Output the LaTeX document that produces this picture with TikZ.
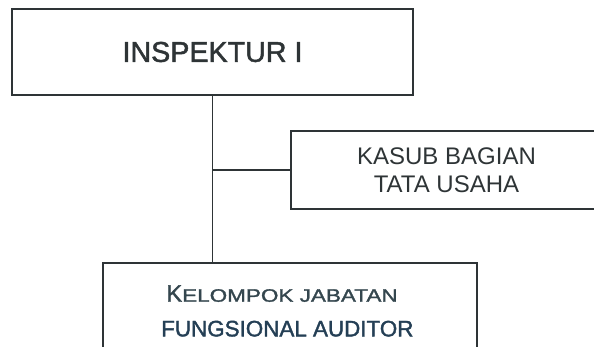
\documentclass[tikz,border=0pt]{standalone}
\usepackage{fontspec}
\setmainfont{Liberation Sans}
\newfontfamily\heavysans[FakeBold=1.6]{Liberation Sans}
\newfontfamily\widesans[FakeStretch=1.25,FakeBold=1.6]{Liberation Sans}
\usetikzlibrary{positioning}

\definecolor{inkgray}{HTML}{2E3436}
\definecolor{tealgray}{HTML}{34464E}
\definecolor{inkblue}{HTML}{243F55}

\tikzset{
  unitbox/.style={draw=inkgray, line width=0.9pt, align=center, inner sep=0pt, text=inkgray},
  orgline/.style={draw=inkgray, line width=0.9pt}
}

\begin{document}
\begin{tikzpicture}[x=0.75pt,y=-0.75pt]
            \useasboundingbox (0,0) rectangle (594,347);
            \clip (0,0) rectangle (594,347);

            % boxes
            \node[unitbox, minimum width=300.75pt, minimum height=64.5pt,
                  font=\heavysans\fontsize{21.5}{25}\selectfont] (inspektur) at (212.5,52) {INSPEKTUR I};
            \node[unitbox, minimum width=233.25pt, minimum height=58.5pt,
                  font=\fontsize{18}{21}\selectfont] (kasub) at (446.5,170) {KASUB BAGIAN\\TATA USAHA};
            \node[unitbox, minimum width=280.5pt, minimum height=72pt,
                  font=\heavysans\fontsize{16.8}{26}\selectfont] (kelompok) at (290,311)
                 {\textcolor{tealgray}{{\fontsize{17.8}{26}\selectfont K}{\widesans\fontsize{13.5}{26}\selectfont ELOMPOK JABATAN}}\hspace*{12pt}\\
                  \textcolor{inkblue}{FUNGSIONAL AUDITOR}\hspace*{4pt}};

            % lines
            \draw[orgline] (inspektur.south) -- (inspektur.south |- kelompok.north);
            \draw[orgline] (inspektur.south |- kasub.west) -- (kasub.west);
\end{tikzpicture}
\end{document}
